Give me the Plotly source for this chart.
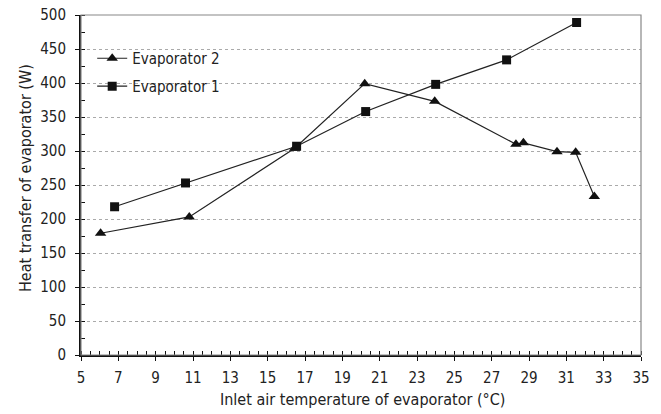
import plotly.graph_objects as go

evap2_x = [6.05, 10.8, 16.45, 20.2, 23.95, 28.3, 28.7, 30.5, 31.5, 32.5]
evap2_y = [179, 203, 304, 399, 373, 310, 312, 299, 298, 233]
evap1_x = [6.8, 10.6, 16.55, 20.25, 24.0, 27.8, 31.55]
evap1_y = [218, 253, 307, 358, 398, 434, 489]

x_ticks = list(range(5, 36, 2))
y_ticks = list(range(0, 501, 50))

x_title = "Inlet air temperature of evaporator (°C)"
y_title = "Heat transfer of evaporator (W)"

font_family = "DejaVu Sans Condensed, DejaVu Sans, sans-serif"

fig = go.Figure()
fig.add_trace(go.Scatter(
    x=evap2_x, y=evap2_y, mode="lines+markers", name="Evaporator 2",
    legend="legend",
    line=dict(color="#222222", width=1.2),
    marker=dict(symbol="triangle-up", size=10, color="#111111"),
))
fig.add_trace(go.Scatter(
    x=evap1_x, y=evap1_y, mode="lines+markers", name="Evaporator 1",
    legend="legend2",
    line=dict(color="#222222", width=1.2),
    marker=dict(symbol="square", size=9, color="#111111"),
))

legend_common = dict(xanchor="left", yanchor="middle", bgcolor="rgba(0,0,0,0)",
                     font=dict(size=15), itemwidth=30)

fig.update_layout(
    width=661, height=414,
    margin=dict(l=81, r=20, t=15, b=59),
    paper_bgcolor="white", plot_bgcolor="white",
    font=dict(family=font_family, size=15, color="#222222"),
    showlegend=True,
    legend=dict(x=0.02, y=0.872, **legend_common),
    legend2=dict(x=0.02, y=0.79, **legend_common),
    shapes=[dict(type="rect", xref="paper", yref="paper", x0=0, y0=0, x1=1, y1=1,
                 line=dict(color="#888888", width=1.2), layer="above")],
    annotations=[
        dict(text=x_title, xref="paper", yref="paper", x=(362 - 81) / 560, y=0,
             yshift=-44, xanchor="center", yanchor="middle", showarrow=False,
             font=dict(size=16)),
        dict(text=y_title, xref="paper", yref="paper", x=0, y=(355 - 178) / 340,
             xshift=-56, xanchor="center", yanchor="middle", textangle=-90,
             showarrow=False, font=dict(size=16)),
    ],
)
fig.update_xaxes(
    range=[5, 35], tickvals=x_ticks, ticktext=[str(v) for v in x_ticks],
    showline=True, linecolor="#111111", linewidth=2, mirror=False,
    ticks="outside", ticklen=4, tickcolor="#111111", ticklabelstandoff=4,
    minor=dict(dtick=0.5, tick0=5, ticks="inside", ticklen=4, tickcolor="#111111", showgrid=False),
    showgrid=False, zeroline=False, automargin=False,
)
fig.update_yaxes(
    range=[0, 500], tickvals=y_ticks,
    showline=True, linecolor="#111111", linewidth=2, mirror=False,
    ticks="outside", ticklen=4, tickcolor="#111111", ticklabelstandoff=6,
    minor=dict(dtick=25, ticks="inside", ticklen=4, tickcolor="#111111", showgrid=False),
    showgrid=True, gridcolor="#aaaaaa", griddash="dot", gridwidth=1,
    zeroline=False, automargin=False,
)

fig.write_html("out.html")
